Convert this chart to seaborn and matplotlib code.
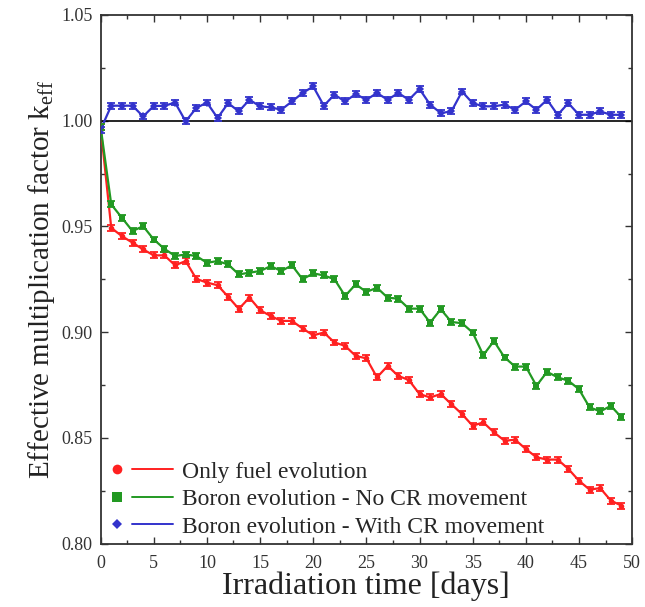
import numpy as np
import pandas as pd
import matplotlib
matplotlib.use("Agg")
import matplotlib.pyplot as plt
from matplotlib.lines import Line2D
from matplotlib.legend_handler import HandlerBase
from matplotlib.ticker import MultipleLocator, FormatStrFormatter
import seaborn as sns

# --- data (k_eff per day) ---
days = list(range(50))

only_fuel = [0.997, 0.9493, 0.9454, 0.9423, 0.9391, 0.9363, 0.9363, 0.9316, 0.9336, 0.9252,
             0.9234, 0.9222, 0.9167, 0.9110, 0.9163, 0.9104, 0.9076, 0.9053, 0.9053, 0.9017,
             0.8985, 0.8998, 0.8951, 0.8935, 0.8887, 0.8876, 0.8786, 0.8840, 0.8793, 0.8773,
             0.8707, 0.8691, 0.8707, 0.8659, 0.8612, 0.8557, 0.8573, 0.8526, 0.8486, 0.8491,
             0.8447, 0.8408, 0.8397, 0.8397, 0.8353, 0.8297, 0.8255, 0.8262, 0.8203, 0.8179]

boron_no_cr = [0.997, 0.9604, 0.9541, 0.9478, 0.9501, 0.9438, 0.9394, 0.9360, 0.9367, 0.9360,
               0.9328, 0.9336, 0.9320, 0.9273, 0.9281, 0.9289, 0.9312, 0.9289, 0.9316, 0.9250,
               0.9278, 0.9268, 0.9250, 0.9171, 0.9226, 0.9190, 0.9210, 0.9163, 0.9158, 0.9111,
               0.9111, 0.9045, 0.9108, 0.9048, 0.9042, 0.8998, 0.8891, 0.8958, 0.8880, 0.8837,
               0.8837, 0.8746, 0.8812, 0.8786, 0.8770, 0.8730, 0.8644, 0.8625, 0.8651, 0.8597]

boron_cr = [0.9958, 1.0071, 1.0071, 1.0071, 1.0020, 1.0070, 1.0070, 1.0086, 0.9997, 1.0060,
            1.0086, 1.0013, 1.0083, 1.0044, 1.0099, 1.0068, 1.0063, 1.0052, 1.0091, 1.0131,
            1.0162, 1.0071, 1.0123, 1.0091, 1.0126, 1.0099, 1.0131, 1.0099, 1.0131, 1.0099,
            1.0150, 1.0076, 1.0036, 1.0044, 1.0138, 1.0083, 1.0068, 1.0068, 1.0076, 1.0052,
            1.0091, 1.0052, 1.0099, 1.0028, 1.0083, 1.0028, 1.0028, 1.0044, 1.0028, 1.0028]

sigma = 0.0014

labels = ["Only fuel evolution",
          "Boron evolution - No CR movement",
          "Boron evolution - With CR movement"]
colors = ["#ff2020", "#229922", "#3333cc"]
markers = ["o", "s", "D"]

df = pd.DataFrame({
    "day": days * 3,
    "keff": only_fuel + boron_no_cr + boron_cr,
    "case": [labels[0]] * 50 + [labels[1]] * 50 + [labels[2]] * 50,
})


class MarkerThenLine(HandlerBase):
    # marker on the left, a separate line segment to its right
    def create_artists(self, legend, orig_handle, xdescent, ydescent,
                       width, height, fontsize, trans):
        y = height / 2 - ydescent
        x0 = -xdescent
        c = orig_handle.get_color()
        mk = Line2D([x0 + 0.13 * width], [y], ls="none", marker=orig_handle.get_marker(),
                    markersize=orig_handle.get_markersize(), color=c, markeredgewidth=0,
                    transform=trans)
        ln = Line2D([x0 + 0.36 * width, x0 + width], [y, y], color=c, lw=1.4,
                    transform=trans)
        return [mk, ln]


sns.set_style("ticks")
plt.rcParams["font.family"] = ["Liberation Serif", "DejaVu Serif"]
plt.rcParams["mathtext.fontset"] = "custom"
plt.rcParams["mathtext.rm"] = "Liberation Serif"
plt.rcParams["mathtext.it"] = "Liberation Serif:italic"

fig = plt.figure(figsize=(6.45, 6.07), dpi=100)
ax = fig.add_axes([0.156, 0.1046, 0.824, 0.8707])

ax.axhline(1.0, color="black", lw=1.2, zorder=1)

sns.lineplot(data=df, x="day", y="keff", hue="case", style="case",
             hue_order=labels, style_order=labels,
             palette=dict(zip(labels, colors)),
             markers=dict(zip(labels, markers)), dashes=False,
             markersize=4, markeredgewidth=0, lw=1.6,
             legend=False, ax=ax, zorder=3)

for vals, c in zip([only_fuel, boron_no_cr, boron_cr], colors):
    ax.errorbar(days, vals, yerr=sigma, fmt="none", ecolor=c,
                elinewidth=1.3, capsize=2.8, capthick=1.3, zorder=3)

ax.set_xlim(0, 50)
ax.set_ylim(0.80, 1.05)
ax.xaxis.set_major_locator(MultipleLocator(5))
ax.xaxis.set_minor_locator(MultipleLocator(2.5))
ax.yaxis.set_major_locator(MultipleLocator(0.05))
ax.yaxis.set_minor_locator(MultipleLocator(0.025))
ax.yaxis.set_major_formatter(FormatStrFormatter("%.2f"))
ax.tick_params(which="both", direction="in", top=True, right=True,
               labelsize=13, colors="#333333", labelcolor="#333333")
ax.tick_params(which="major", length=5, width=1)
ax.tick_params(which="minor", length=3, width=1)
ax.tick_params(axis="x", which="major", pad=8)
ax.tick_params(axis="y", which="major", pad=6)
for s in ax.spines.values():
    s.set_color("#333333")
    s.set_linewidth(1.3)

ax.set_xlabel("Irradiation time [days]", fontsize=23, color="#222222", labelpad=0)
ax.set_ylabel(r"Effective multiplication factor k$_{\rm eff}$", fontsize=21,
              color="#222222", labelpad=3)

handles = [Line2D([], [], color=c, marker=m, markersize=7 if m != "D" else 5.5)
           for c, m in zip(colors, markers)]
ax.legend(handles, labels, handler_map={Line2D: MarkerThenLine()},
          loc="lower left", frameon=False, fontsize=17, handlelength=2.7,
          handletextpad=0.4, labelspacing=0.25, borderaxespad=0.0, borderpad=0.25,
          bbox_to_anchor=(0.005, 0.0))

fig.savefig("out.png", dpi=100, facecolor="white")
